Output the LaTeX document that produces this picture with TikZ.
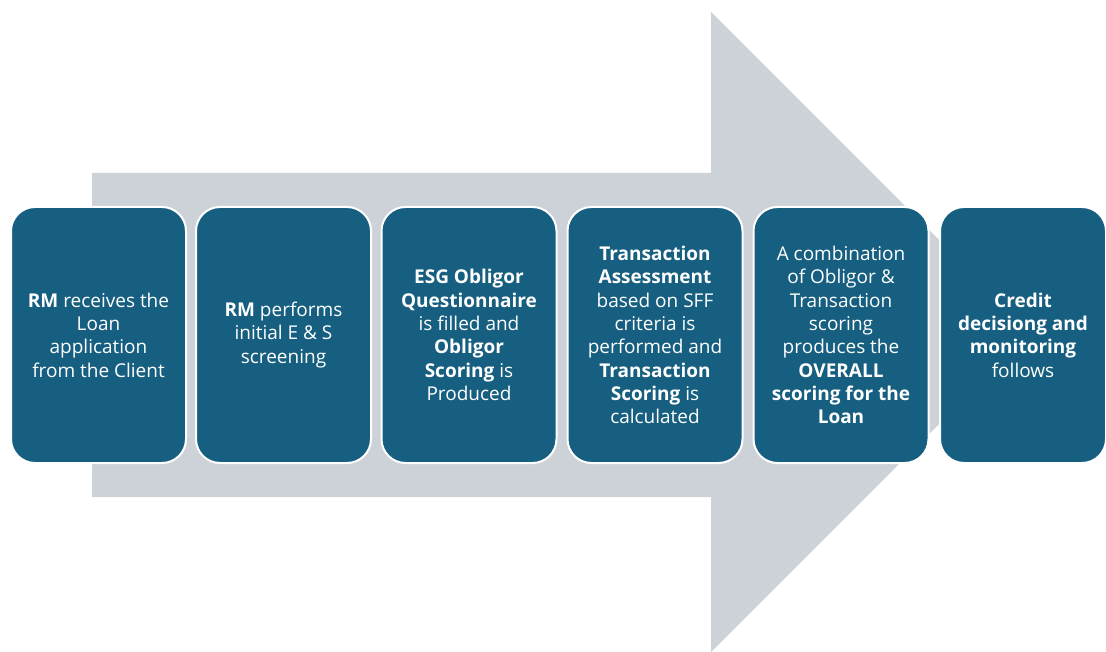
\documentclass[tikz,border=0pt]{standalone}
\usepackage{fontspec}
\setmainfont{Open Sans}
\definecolor{boxblue}{HTML}{175F80}
\definecolor{arrowgrey}{HTML}{CDD2D9}
\begin{document}
\begin{tikzpicture}[x=1pt,y=-1pt,
  stepbox/.style={draw=white,line width=2pt,fill=boxblue,rounded corners=24pt,
    minimum width=175pt,minimum height=256pt,text=white,align=center,inner sep=0pt,
    font=\fontsize{19}{23.3}\selectfont},
  bigarrow/.style={fill=arrowgrey,draw=none}]
\useasboundingbox (0,0) rectangle (1106,652);
\fill[bigarrow] (92,173) -- (711,173) -- (711,12) -- (1031,332) -- (711,652) -- (711,497) -- (92,497) -- cycle;
\node[stepbox] (s1) at (98.5,335) {\textbf{RM} receives the\\Loan\\application\\from the Client};
\node[stepbox] (s2) at (283.5,335) {\textbf{RM} performs\\initial E \& S\\screening};
\node[stepbox] (s3) at (469,335) {\textbf{ESG Obligor}\\\textbf{Questionnaire}\\is filled and\\\textbf{Obligor}\\\textbf{Scoring} is\\Produced};
\node[stepbox] (s4) at (655,335) {\textbf{Transaction}\\\textbf{Assessment}\\based on SFF\\criteria is\\performed and\\\textbf{Transaction}\\\textbf{Scoring} is\\calculated};
\node[stepbox] (s5) at (841,335) {A combination\\of Obligor \&\\Transaction\\scoring\\produces the\\\textbf{OVERALL}\\\textbf{scoring for the}\\\textbf{Loan}};
\node[stepbox,minimum width=166pt] (s6) at (1023,335) {\textbf{Credit}\\\textbf{decisiong and}\\\textbf{monitoring}\\follows};
\end{tikzpicture}
\end{document}
